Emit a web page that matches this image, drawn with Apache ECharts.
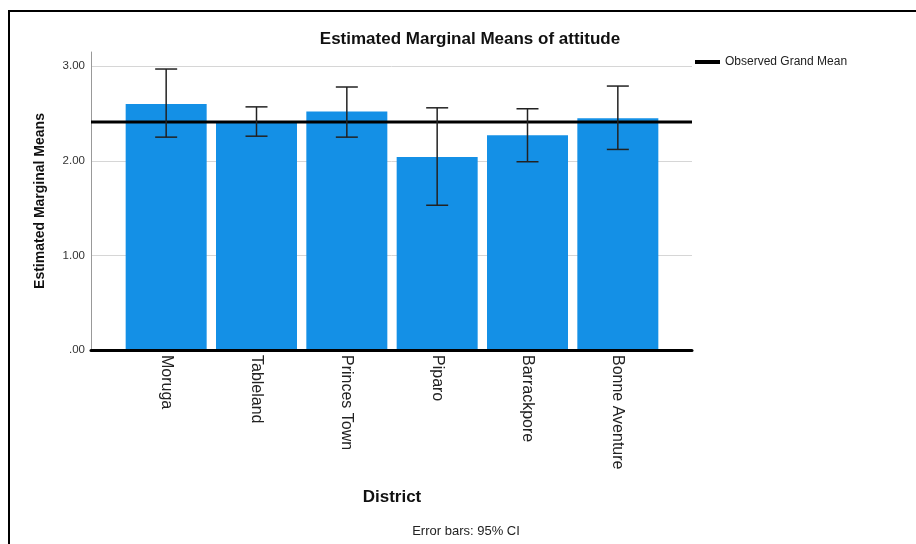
<!DOCTYPE html>
<html>
<head>
<meta charset="utf-8">
<script src="https://cdn.jsdelivr.net/npm/echarts@6/dist/echarts.min.js"></script>
<style>
html,body{margin:0;padding:0;background:#fff;}
#chart{width:916px;height:544px;}
</style>
</head>
<body>
<div id="chart"></div>
<script>
var categories = ['Moruga', 'Tableland', 'Princes Town', 'Piparo', 'Barrackpore', 'Bonne Aventure'];
var means = [2.60, 2.41, 2.52, 2.04, 2.27, 2.45];
var ciLower = [2.25, 2.26, 2.25, 1.53, 1.99, 2.12];
var ciUpper = [2.97, 2.57, 2.78, 2.56, 2.55, 2.79];
var grandMean = 2.41;
var yTicks = [0, 1, 2, 3];

var FONT = "'Liberation Sans', Arial, sans-serif";
var chart = echarts.init(document.getElementById('chart'), null, {renderer: 'canvas'});

var errData = categories.map(function (c, i) { return [i, ciLower[i], ciUpper[i]]; });

var option = {
  backgroundColor: '#fff',
  animation: false,
  textStyle: {fontFamily: FONT},
  title: {
    text: 'Estimated Marginal Means of attitude',
    left: 465, top: 26, textAlign: 'center',
    textStyle: {fontFamily: FONT, fontSize: 17, fontWeight: 'bold', color: '#111'}
  },
  legend: {
    left: 695, top: 56, padding: 0,
    icon: 'rect', itemWidth: 25, itemHeight: 4, itemGap: 5,
    data: [{name: 'Observed Grand Mean', itemStyle: {color: '#000'}}],
    textStyle: {fontFamily: FONT, fontSize: 12, color: '#222'}
  },
  graphic: [
    {type: 'rect', shape: {x: 9, y: 11, width: 2000, height: 2000}, style: {fill: 'none', stroke: '#000', lineWidth: 2}, silent: true},
    {type: 'text', x: 392, y: 497, style: {text: 'District', font: 'bold 17px ' + FONT, fill: '#111', align: 'center', verticalAlign: 'middle'}, silent: true},
    {type: 'text', x: 466, y: 531, style: {text: 'Error bars: 95% CI', font: '13px ' + FONT, fill: '#222', align: 'center', verticalAlign: 'middle'}, silent: true}
  ],
  grid: [
    {left: 91, right: 224, top: 52, bottom: 194, containLabel: false},
    {left: 121, right: 253, top: 52, bottom: 194, containLabel: false}
  ],
  xAxis: [
    {gridIndex: 0, type: 'value', min: 0, max: 1, z: 10,
     axisLine: {show: true, onZero: false, lineStyle: {color: '#000', width: 3}},
     axisTick: {show: false}, axisLabel: {show: false}, splitLine: {show: false}},
    {gridIndex: 1, type: 'category', data: categories, boundaryGap: true,
     axisLine: {show: false}, axisTick: {show: false},
     axisLabel: {rotate: -90, margin: 5, fontSize: 16, color: '#222', fontFamily: FONT, interval: 0}}
  ],
  yAxis: [
    {gridIndex: 0, type: 'value', min: 0, max: 3.15, interval: 1,
     axisLine: {show: true, lineStyle: {color: '#999', width: 1}},
     axisTick: {show: false},
     axisLabel: {showMaxLabel: false, margin: 6, fontSize: 11.5, color: '#333', fontFamily: FONT,
       formatter: function (v) { return yTicks.indexOf(v) < 0 ? '' : (v === 0 ? '.00' : v.toFixed(2)); }},
     splitLine: {show: true, showMinLine: false, showMaxLine: false, lineStyle: {color: '#d6d6d6', width: 1}},
     name: 'Estimated Marginal Means', nameLocation: 'middle', nameRotate: 90, nameGap: 44,
     nameTextStyle: {fontFamily: FONT, fontSize: 14, fontWeight: 'bold', color: '#111'}},
    {gridIndex: 1, type: 'value', min: 0, max: 3.15, show: false, splitLine: {show: false}}
  ],
  series: [
    {type: 'bar', xAxisIndex: 1, yAxisIndex: 1, data: means, barWidth: 81, z: 2,
     itemStyle: {color: '#1490e6'}},
    {type: 'line', name: 'Observed Grand Mean', xAxisIndex: 0, yAxisIndex: 0, z: 5,
     data: [[0, grandMean], [1, grandMean]], symbol: 'none',
     lineStyle: {color: '#000', width: 3}, itemStyle: {color: '#000'}},
    {type: 'custom', xAxisIndex: 1, yAxisIndex: 1, z: 6, data: errData,
     encode: {x: 0, y: [1, 2]},
     renderItem: function (params, api) {
       var i = api.value(0);
       var lo = api.coord([i, api.value(1)]);
       var hi = api.coord([i, api.value(2)]);
       var hw = 11;
       var st = {stroke: '#222', lineWidth: 1.5, fill: 'none'};
       return {type: 'group', children: [
         {type: 'line', shape: {x1: lo[0], y1: lo[1], x2: hi[0], y2: hi[1]}, style: st},
         {type: 'line', shape: {x1: lo[0] - hw, y1: lo[1], x2: lo[0] + hw, y2: lo[1]}, style: st},
         {type: 'line', shape: {x1: hi[0] - hw, y1: hi[1], x2: hi[0] + hw, y2: hi[1]}, style: st}
       ]};
     }}
  ]
};
chart.setOption(option);
</script>
</body>
</html>
